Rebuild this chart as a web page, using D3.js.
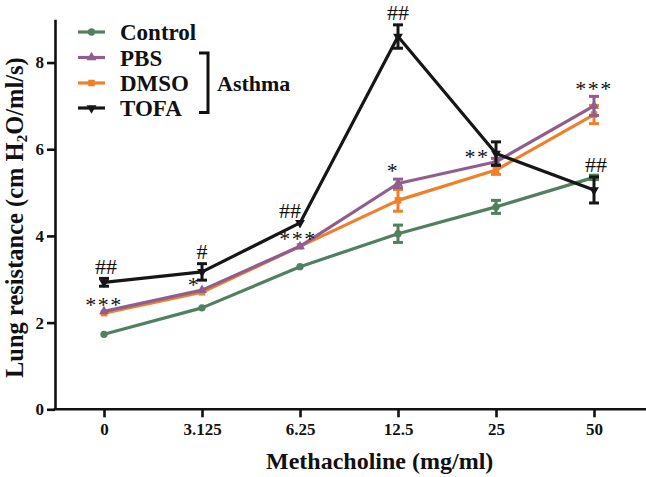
<!DOCTYPE html>
<html>
<head>
<meta charset="utf-8">
<script src="https://cdn.jsdelivr.net/npm/d3@7"></script>
<style>
  html, body { margin: 0; padding: 0; background: #fff; }
  svg { display: block; }
</style>
</head>
<body>
<svg id="chart" width="646" height="477"></svg>
<script>
// ---- data ----
const doses = ["0", "3.125", "6.25", "12.5", "25", "50"];
const yTicks = [0, 2, 4, 6, 8];

const controlMean = [1.73, 2.34, 3.29, 4.05, 4.67, 5.35];
const controlErr  = [0, 0, 0, 0.20, 0.15, 0.05];
const pbsMean     = [2.26, 2.75, 3.76, 5.21, 5.71, 7.00];
const pbsErr      = [0, 0, 0, 0.10, 0.08, 0.22];
const dmsoMean    = [2.22, 2.70, 3.76, 4.82, 5.52, 6.80];
const dmsoErr     = [0, 0, 0, 0.25, 0.10, 0.21];
const tofaMean    = [2.93, 3.17, 4.30, 8.60, 5.90, 5.06];
const tofaErr     = [0.09, 0.19, 0, 0.27, 0.27, 0.30];

const seriesNames = ["Control", "PBS", "DMSO", "TOFA"];
const annotations = [
  { cat: "0",     series: "TOFA", text: "##",  dx: 2,   dy: -8 },
  { cat: "0",     series: "PBS",  text: "***", dx: 0,   dy: 1 },
  { cat: "3.125", series: "TOFA", text: "#",   dx: 0,   dy: -13 },
  { cat: "3.125", series: "PBS",  text: "*",   dx: -8,  dy: 2 },
  { cat: "6.25",  series: "TOFA", text: "##",  dx: -10, dy: -5 },
  { cat: "6.25",  series: "PBS",  text: "***", dx: -2,  dy: 0 },
  { cat: "12.5",  series: "PBS",  text: "*",   dx: -5,  dy: -5 },
  { cat: "12.5",  series: "TOFA", text: "##",  dx: 0,   dy: -17 },
  { cat: "25",    series: "PBS",  text: "**",  dx: -19, dy: 2 },
  { cat: "50",    series: "PBS",  text: "***", dx: 0,   dy: -10 },
  { cat: "50",    series: "TOFA", text: "##",  dx: 2,   dy: -18 }
];

// ---- styles ----
const colors = { Control: "#527f5f", PBS: "#8f5e8e", DMSO: "#f07f2a", TOFA: "#161616" };
const symbols = { Control: d3.symbolCircle, PBS: d3.symbolTriangle, DMSO: d3.symbolSquare, TOFA: d3.symbolTriangle };
const FONT = "'Liberation Serif', 'Times New Roman', serif";

const series = [
  { name: "Control", mean: controlMean, err: controlErr },
  { name: "PBS", mean: pbsMean, err: pbsErr },
  { name: "DMSO", mean: dmsoMean, err: dmsoErr },
  { name: "TOFA", mean: tofaMean, err: tofaErr }
];
const byName = Object.fromEntries(series.map(s => [s.name, s]));

const svg = d3.select("#chart");
const mLeft = 55, mRight = 643, mBottom = 409.3, mTop = 19.2;

const x = d3.scalePoint().domain(doses).range([mLeft, mRight]).padding(0.5);
const y = d3.scaleLinear().domain([0, 9]).range([mBottom, mTop]);

// ---- axes ----
const yAxis = svg.append("g")
  .attr("transform", `translate(${mLeft},0)`)
  .call(d3.axisLeft(y).tickValues(yTicks).tickSize(8).tickSizeOuter(0).tickPadding(3));
yAxis.select(".domain").attr("stroke", "#111").attr("stroke-width", 2.6);
yAxis.selectAll(".tick line").attr("stroke", "#111").attr("stroke-width", 2.6);
yAxis.selectAll(".tick text")
  .attr("font-family", FONT).attr("font-weight", "bold").attr("font-size", 17).attr("fill", "#111");

const xAxis = svg.append("g")
  .attr("transform", `translate(0,${mBottom})`)
  .call(d3.axisBottom(x).tickSize(8).tickSizeOuter(0).tickPadding(6));
xAxis.select(".domain").remove();
xAxis.selectAll(".tick line").attr("stroke", "#111").attr("stroke-width", 2.6);
xAxis.selectAll(".tick text")
  .attr("font-family", FONT).attr("font-weight", "bold").attr("font-size", 17).attr("fill", "#111");
svg.append("line")
  .attr("x1", mLeft - 1.3).attr("x2", 646)
  .attr("y1", mBottom).attr("y2", mBottom)
  .attr("stroke", "#111").attr("stroke-width", 2.6);

// axis titles
svg.append("text")
  .attr("x", 266).attr("y", 469)
  .attr("text-anchor", "start")
  .attr("font-family", FONT).attr("font-weight", "bold").attr("font-size", 24).attr("fill", "#111")
  .text("Methacholine (mg/ml)");

const yt = svg.append("text")
  .attr("transform", "translate(23,378) rotate(-90)")
  .attr("text-anchor", "start")
  .attr("font-family", FONT).attr("font-weight", "bold").attr("font-size", 24.5).attr("fill", "#111");
yt.append("tspan").text("Lung resistance (cm H");
yt.append("tspan").attr("font-size", 15).attr("dy", 4).text("2");
yt.append("tspan").attr("dy", -4).text("O/ml/s)");

// ---- series ----
const drawOrder = ["Control", "DMSO", "PBS", "TOFA"];
const line = d3.line().x(d => d.x).y(d => d.y);

drawOrder.forEach(name => {
  const s = byName[name];
  const pts = doses.map((c, i) => ({ c, e: s.err[i], x: x(c), y: y(s.mean[i]), lo: y(s.mean[i] - s.err[i]), hi: y(s.mean[i] + s.err[i]) }));
  const g = svg.append("g");
  const col = colors[name];
  pts.filter(p => p.e > 0).forEach(p => {
    g.append("line").attr("x1", p.x).attr("x2", p.x).attr("y1", p.lo).attr("y2", p.hi)
      .attr("stroke", col).attr("stroke-width", 3);
    [p.lo, p.hi].forEach(yy => {
      g.append("line").attr("x1", p.x - 5).attr("x2", p.x + 5).attr("y1", yy).attr("y2", yy)
        .attr("stroke", col).attr("stroke-width", 3);
    });
  });
  g.append("path").datum(pts).attr("d", line)
    .attr("fill", "none").attr("stroke", col).attr("stroke-width", 3.2).attr("stroke-linejoin", "round");
  const sym = d3.symbol().type(symbols[name]).size(name === "DMSO" ? 44 : 42);
  g.selectAll("path.m").data(pts).enter().append("path").attr("class", "m")
    .attr("d", sym)
    .attr("transform", d => `translate(${d.x},${d.y})` + (name === "TOFA" ? " rotate(180)" : ""))
    .attr("fill", col);
});

// ---- annotations ----
annotations.forEach(a => {
  const s = byName[a.series];
  const i = doses.indexOf(a.cat);
  svg.append("text")
    .attr("x", x(a.cat) + a.dx)
    .attr("y", y(s.mean[i]) + a.dy)
    .attr("text-anchor", "middle")
    .attr("font-family", FONT).attr("font-size", 22).attr("fill", "#111")
    .attr("letter-spacing", a.text.startsWith("*") ? 1.5 : 0)
    .text(a.text);
});

// ---- legend ----
const legendY = [32, 57.5, 83, 108];
const leg = svg.append("g");
seriesNames.forEach((name, i) => {
  const yy = legendY[i];
  const col = colors[name];
  leg.append("line").attr("x1", 78).attr("x2", 105).attr("y1", yy).attr("y2", yy)
    .attr("stroke", col).attr("stroke-width", 3.2);
  leg.append("path").attr("d", d3.symbol().type(symbols[name]).size(42)())
    .attr("transform", `translate(91.5,${yy})` + (name === "TOFA" ? " rotate(180)" : ""))
    .attr("fill", col);
  leg.append("text").attr("x", 120).attr("y", yy).attr("dy", "0.35em")
    .attr("font-family", FONT).attr("font-weight", "bold").attr("font-size", 23).attr("fill", "#111")
    .text(name);
});
leg.append("path")
  .attr("d", `M199,${legendY[1] - 4.5} H208 V${legendY[3] + 4.5} H199`)
  .attr("fill", "none").attr("stroke", "#111").attr("stroke-width", 3);
leg.append("text").attr("x", 217).attr("y", 83).attr("dy", "0.35em")
  .attr("font-family", FONT).attr("font-weight", "bold").attr("font-size", 22).attr("fill", "#111")
  .text("Asthma");
</script>
</body>
</html>
